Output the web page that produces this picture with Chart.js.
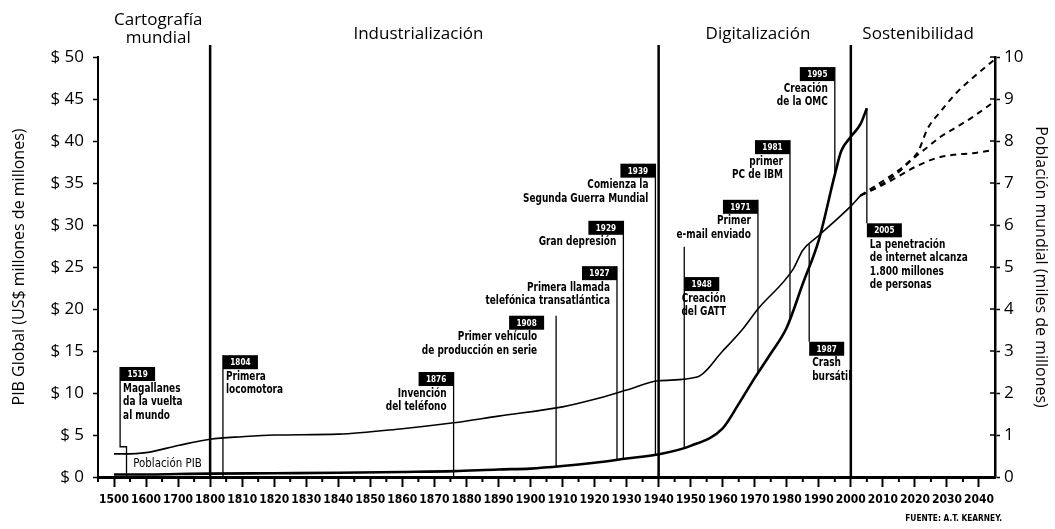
<!DOCTYPE html>
<html lang="es">
<head>
<meta charset="utf-8">
<title>PIB global y población mundial</title>
<script src="https://cdn.jsdelivr.net/npm/chart.js@4.4.1/dist/chart.umd.min.js"></script>
<style>
  html, body { margin: 0; padding: 0; background: #fff; }
</style>
</head>
<body>
<canvas id="grafica" width="1055" height="529"></canvas>
<script>
// Eje X: etiquetas tal cual aparecen (siglos y luego décadas)
const categorias = ['1500','1600','1700','1800','1810','1820','1830','1840','1850','1860','1870','1880','1890','1900',
                    '1910','1920','1930','1940','1950','1960','1970','1980','1990','2000','2010','2020','2030','2040'];

// PIB global (US$ millones de millones)
const pibAnios   = [1500, 1600, 1700, 1800, 1820, 1840, 1860, 1876, 1890, 1900, 1910, 1920, 1930, 1940, 1950,
                    1960, 1965, 1970, 1975, 1980, 1985, 1990, 1995, 1997, 2000, 2003, 2005];
const pibValores = [0.3, 0.3, 0.35, 0.4, 0.45, 0.5, 0.6, 0.7, 0.9, 1.0, 1.3, 1.7, 2.2, 2.7, 3.7,
                    5.8, 8.7, 11.8, 14.7, 17.8, 23.0, 28.2, 36.0, 38.8, 40.5, 42.0, 43.9];

// Población mundial (miles de millones)
const pobAnios   = [1500, 1530, 1600, 1700, 1800, 1810, 1820, 1840, 1860, 1876, 1890, 1910, 1920, 1930, 1940,
                    1952, 1960, 1966, 1971, 1982, 1985, 1990, 2000, 2003];
const pobValores = [0.55, 0.55, 0.58, 0.75, 0.9, 0.96, 1.0, 1.02, 1.15, 1.29, 1.45, 1.67, 1.85, 2.07, 2.29,
                    2.38, 3.0, 3.5, 4.0, 4.95, 5.4, 5.75, 6.45, 6.7];

// Proyecciones de población (líneas discontinuas)
const altaAnios    = [2003, 2008, 2014, 2018, 2021, 2024, 2028, 2033, 2038, 2045];
const altaValores  = [6.7, 6.95, 7.25, 7.5, 7.75, 8.3, 8.7, 9.15, 9.5, 9.95];
const mediaAnios   = [2003, 2008, 2014, 2019, 2024, 2028, 2033, 2038, 2045];
const mediaValores = [6.7, 6.9, 7.2, 7.55, 7.86, 8.1, 8.33, 8.57, 8.95];
const bajaAnios    = [2003, 2008, 2014, 2020, 2027, 2032, 2038, 2045];
const bajaValores  = [6.7, 6.88, 7.12, 7.38, 7.6, 7.67, 7.71, 7.79];

// Eras
const eraNombres = [['Cartografía', 'mundial'], ['Industrialización'], ['Digitalización'], ['Sostenibilidad']];
const eraCentros = [1638, 1865, 1971, 2021];
const eraLimites = [1800, 1940, 2000];

// Hitos
const hitoAnios  = [1519, 1804, 1876, 1908, 1927, 1929, 1939, 1948, 1971, 1981, 1995, 1987, 2005];
const hitoTextos = [
    ['Magallanes', 'da la vuelta', 'al mundo'],
    ['Primera', 'locomotora'],
    ['Invención', 'del teléfono'],
    ['Primer vehículo', 'de producción en serie'],
    ['Primera llamada', 'telefónica transatlántica'],
    ['Gran depresión'],
    ['Comienza la', 'Segunda Guerra Mundial'],
    ['Creación', 'del GATT'],
    ['Primer', 'e-mail enviado'],
    ['primer', 'PC de IBM'],
    ['Creación', 'de la OMC'],
    ['Crash', 'bursátil'],
    ['La penetración', 'de internet alcanza', '1.800 millones', 'de personas']
];
// Colocación de cada caja (en unidades del eje PIB) y hacia dónde apunta la línea
const hitoLayout = [
    { cima: 13.1, hasta: 0, lado: 'der', codo: 3.6 },
    { cima: 14.5, hasta: 0, lado: 'der' },
    { cima: 12.5, hasta: 0, lado: 'izq' },
    { cima: 19.2, hasta: 'pib', lado: 'izq', dx: -12 },
    { cima: 25.1, hasta: 'pib', lado: 'izq' },
    { cima: 30.5, hasta: 'pib', lado: 'izq' },
    { cima: 37.3, hasta: 'pib', lado: 'izq' },
    { cima: 23.8, hasta: 'pib', lado: 'der', desde: 27.4, centro: true },
    { cima: 33.0, hasta: 'pib', lado: 'izq' },
    { cima: 40.1, hasta: 'pib', lado: 'izq' },
    { cima: 48.8, hasta: 'pib', lado: 'izq' },
    { cima: 16.1, hasta: 'pob', lado: 'der' },
    { cima: 30.2, hasta: 'pib', lado: 'der' }
];

// Convierte un año a posición sobre el eje de categorías (no uniforme)
function posicion(anio) {
    const v = categorias.map(Number);
    for (let i = 0; i < v.length - 1; i++) {
        if (anio <= v[i + 1]) return i + (anio - v[i]) / (v[i + 1] - v[i]);
    }
    const n = v.length - 1;
    return n + (anio - v[n]) / (v[n] - v[n - 1]);
}

function interpolar(anios, valores, anio) {
    for (let i = 0; i < anios.length - 1; i++) {
        if (anio <= anios[i + 1]) {
            const t = (anio - anios[i]) / (anios[i + 1] - anios[i]);
            return valores[i] + t * (valores[i + 1] - valores[i]);
        }
    }
    return valores[valores.length - 1];
}

const puntos = (anios, valores) => anios.map((a, i) => ({ x: posicion(a), y: valores[i] }));

const fuenteEstrecha = "'DejaVu Sans Condensed', 'DejaVu Sans', sans-serif";
const fuenteNormal = "'Open Sans', 'Noto Sans', sans-serif";

function escribir(ctx, str, px, py, align, escala) {
    ctx.save();
    ctx.translate(px, py);
    ctx.scale(escala, 1);
    ctx.textAlign = align;
    ctx.fillText(str, 0, 0);
    ctx.restore();
}

function linea(ctx, x1, y1, x2, y2) {
    ctx.beginPath();
    ctx.moveTo(x1, y1);
    ctx.lineTo(x2, y2);
    ctx.stroke();
}

const decoracion = {
    id: 'decoracion',
    afterDatasetsDraw(chart) {
        const { ctx, chartArea: area, scales } = chart;
        const x = scales.x, y = scales.y, y1 = scales.y1;
        ctx.save();
        ctx.strokeStyle = '#000';
        ctx.fillStyle = '#000';

        // marcas cortas entre etiquetas del eje X
        ctx.lineWidth = 2;
        for (let i = 0; i < categorias.length; i++) {
            const px = x.getPixelForValue(i - 0.5);
            linea(ctx, px, area.bottom, px, area.bottom + 5);
        }
        // marcas interiores del eje derecho
        ctx.lineWidth = 1.5;
        for (let v = 0; v <= 10; v++) {
            const py = y1.getPixelForValue(v);
            linea(ctx, area.right - 5, py, area.right, py);
        }

        // separadores de eras
        ctx.lineWidth = 2.5;
        eraLimites.forEach(a => {
            const px = x.getPixelForValue(posicion(a));
            linea(ctx, px, area.top - 12, px, area.bottom);
        });

        // nombres de eras
        ctx.font = '17px ' + fuenteNormal;
        ctx.textBaseline = 'middle';
        eraNombres.forEach((lineas, i) => {
            const px = x.getPixelForValue(posicion(eraCentros[i]));
            if (lineas.length === 2) {
                escribir(ctx, lineas[0], px, area.top - 37, 'center', 1);
                escribir(ctx, lineas[1], px, area.top - 19, 'center', 1);
            } else {
                escribir(ctx, lineas[0], px, area.top - 23, 'center', 1);
            }
        });

        // hitos
        const anchoCaja = 35, altoCaja = 14;
        hitoAnios.forEach((anio, i) => {
            const l = hitoLayout[i];
            const px = x.getPixelForValue(posicion(anio));
            const top = y.getPixelForValue(l.cima);
            let fin;
            if (l.hasta === 'pib') fin = y.getPixelForValue(interpolar(pibAnios, pibValores, anio));
            else if (l.hasta === 'pob') fin = y1.getPixelForValue(interpolar(pobAnios, pobValores, anio));
            else fin = y.getPixelForValue(l.hasta);
            const inicio = l.desde !== undefined ? y.getPixelForValue(l.desde) : top;

            ctx.lineWidth = 1.3;
            if (l.codo !== undefined) {
                const yc = y.getPixelForValue(l.codo);
                const xc = x.getPixelForValue(posicion(anio + 20));
                ctx.beginPath();
                ctx.moveTo(px, inicio);
                ctx.lineTo(px, yc);
                ctx.lineTo(xc, yc);
                ctx.lineTo(xc, fin);
                ctx.stroke();
            } else {
                linea(ctx, px, inicio, px, fin);
            }

            const dx = l.dx || 0;
            const cajaX = l.lado === 'der' ? px + dx : px + dx - anchoCaja;
            ctx.fillStyle = '#000';
            ctx.fillRect(cajaX, top, anchoCaja, altoCaja);
            ctx.fillStyle = '#fff';
            ctx.font = 'bold 9px ' + fuenteEstrecha;
            escribir(ctx, String(anio), cajaX + anchoCaja / 2, top + altoCaja / 2 + 0.5, 'center', 0.9);

            ctx.fillStyle = '#000';
            ctx.font = 'bold 12px ' + fuenteEstrecha;
            hitoTextos[i].forEach((t, k) => {
                const ty = top + altoCaja + 7.5 + k * 13.5;
                if (l.centro) escribir(ctx, t, cajaX + anchoCaja / 2 + 2, ty, 'center', 0.83);
                else if (l.lado === 'der') escribir(ctx, t, px + 3, ty, 'left', 0.83);
                else escribir(ctx, t, px + dx - 7, ty, 'right', 0.83);
            });
        });

        // rótulo junto a las curvas
        ctx.font = '12px ' + fuenteEstrecha;
        escribir(ctx, 'Población PIB', x.getPixelForValue(posicion(1560)), y.getPixelForValue(1.6), 'left', 0.95);

        // fuente
        ctx.font = 'bold 9px ' + fuenteEstrecha;
        escribir(ctx, 'FUENTE: A.T. KEARNEY.', chart.width - 53, chart.height - 10, 'right', 0.92);
        ctx.restore();
    }
};

const ctx = document.getElementById('grafica');
new Chart(ctx, {
    type: 'line',
    data: {
        datasets: [
            {
                label: 'PIB',
                data: puntos(pibAnios, pibValores),
                yAxisID: 'y',
                borderColor: '#000',
                borderWidth: 2.6,
                pointRadius: 0,
                cubicInterpolationMode: 'monotone'
            },
            {
                label: 'Población',
                data: puntos(pobAnios, pobValores),
                yAxisID: 'y1',
                borderColor: '#000',
                borderWidth: 1.6,
                pointRadius: 0,
                cubicInterpolationMode: 'monotone'
            },
            {
                label: 'Proyección alta',
                data: puntos(altaAnios, altaValores),
                yAxisID: 'y1',
                borderColor: '#000',
                borderWidth: 2,
                borderDash: [6, 5],
                pointRadius: 0,
                cubicInterpolationMode: 'monotone'
            },
            {
                label: 'Proyección media',
                data: puntos(mediaAnios, mediaValores),
                yAxisID: 'y1',
                borderColor: '#000',
                borderWidth: 2,
                borderDash: [6, 5],
                pointRadius: 0,
                cubicInterpolationMode: 'monotone'
            },
            {
                label: 'Proyección baja',
                data: puntos(bajaAnios, bajaValores),
                yAxisID: 'y1',
                borderColor: '#000',
                borderWidth: 2,
                borderDash: [6, 5],
                pointRadius: 0,
                cubicInterpolationMode: 'monotone'
            }
        ]
    },
    options: {
        responsive: false,
        animation: false,
        layout: { padding: { top: 57, left: 0, right: 0, bottom: 0 } },
        plugins: {
            legend: { display: false },
            tooltip: { enabled: false }
        },
        scales: {
            x: {
                type: 'linear',
                min: -0.5,
                max: categorias.length - 0.5,
                afterBuildTicks: axis => { axis.ticks = categorias.map((c, i) => ({ value: i })); },
                afterFit: axis => { axis.height = 52; },
                ticks: {
                    callback: v => categorias[v],
                    autoSkip: false,
                    maxRotation: 0,
                    padding: 6,
                    color: '#000',
                    font: { family: fuenteEstrecha, size: 12, weight: 'bold' }
                },
                grid: { drawOnChartArea: false, tickLength: 10, tickWidth: 2, tickColor: '#000' },
                border: { color: '#000', width: 3 }
            },
            y: {
                position: 'left',
                min: 0,
                max: 50,
                afterFit: axis => { axis.width = 98; },
                ticks: {
                    stepSize: 5,
                    padding: 9,
                    color: '#000',
                    callback: v => '$ ' + v,
                    font: { family: fuenteNormal, size: 17 }
                },
                grid: { drawOnChartArea: false, tickLength: 5, tickWidth: 1.5, tickColor: '#000' },
                border: { color: '#000', width: 2 },
                title: {
                    display: true,
                    text: 'PIB Global (US$ millones de millones)',
                    color: '#000',
                    padding: { top: 10, bottom: 0 },
                    font: { family: fuenteNormal, size: 16 }
                }
            },
            y1: {
                position: 'right',
                min: 0,
                max: 10,
                afterFit: axis => { axis.width = 60; },
                ticks: {
                    stepSize: 1,
                    padding: 4,
                    color: '#000',
                    font: { family: fuenteNormal, size: 17 }
                },
                grid: { drawOnChartArea: false, tickLength: 5, tickWidth: 1.5, tickColor: '#000' },
                border: { color: '#000', width: 2.5 },
                title: {
                    display: true,
                    text: 'Población mundial (miles de millones)',
                    color: '#000',
                    padding: { top: 5, bottom: 0 },
                    font: { family: fuenteNormal, size: 16 }
                }
            }
        }
    },
    plugins: [decoracion]
});
</script>
</body>
</html>
